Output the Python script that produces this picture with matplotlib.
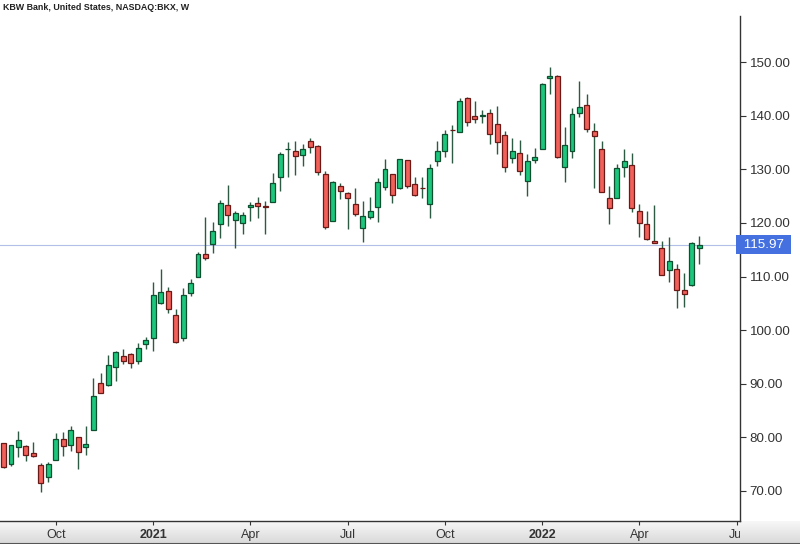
import matplotlib
matplotlib.use("Agg")
import matplotlib.pyplot as plt
import matplotlib.transforms as mtransforms
from matplotlib.patches import Rectangle
import numpy as np
import pandas as pd

plt.rcParams['font.family'] = ['Liberation Sans', 'DejaVu Sans']

title = "KBW Bank, United States, NASDAQ:BKX, W"
start_date = "2020-08-17"
last_price = 115.97

opens = [78.91, 74.99, 78.16, 78.35, 77.04, 74.80, 72.56, 75.73, 79.66, 78.54,
         80.03, 78.16, 81.34, 90.11, 89.74, 93.10, 95.15, 95.53, 94.22, 97.40,
         98.52, 105.05, 107.29, 102.81, 98.52, 106.92, 109.91, 114.20, 116.07, 119.81,
         123.35, 120.55, 119.99, 122.98, 123.73, 123.26, 123.91, 128.58, 133.72, 133.44,
         132.69, 135.30, 134.37, 129.14, 120.37, 126.90, 125.59, 123.54, 119.06, 121.11,
         122.98, 126.71, 129.14, 126.53, 131.76, 127.27, 126.56, 123.54, 131.57, 133.44,
         137.40, 136.98, 143.33, 139.97, 140.06, 140.53, 138.48, 136.42, 132.13, 133.06,
         127.83, 131.76, 133.81, 147.07, 147.44, 130.45, 133.44, 140.53, 142.03, 137.17,
         133.81, 124.66, 124.66, 130.45, 130.82, 122.23, 119.81, 116.54, 115.32, 111.22,
         111.40, 107.48, 108.41, 115.32]
closes = [74.43, 78.54, 79.47, 76.67, 76.48, 71.44, 74.99, 79.66, 78.35, 81.34,
          77.23, 78.72, 87.69, 88.25, 93.47, 95.90, 94.22, 93.85, 96.65, 98.14,
          106.55, 107.11, 103.93, 97.77, 106.55, 108.79, 114.20, 113.46, 118.50, 123.73,
          121.48, 121.86, 121.48, 123.35, 123.17, 123.07, 127.46, 132.88, 133.87, 132.50,
          133.81, 134.18, 129.51, 119.24, 127.65, 125.97, 124.66, 121.67, 121.30, 122.23,
          127.65, 130.08, 125.22, 131.94, 126.90, 125.22, 126.47, 130.26, 133.44, 136.61,
          137.30, 142.77, 138.85, 139.41, 140.20, 136.61, 135.12, 130.45, 133.44, 129.70,
          131.57, 132.32, 145.95, 147.44, 132.32, 134.56, 140.35, 141.65, 137.54, 136.23,
          125.78, 122.79, 130.26, 131.57, 122.79, 119.99, 117.00, 116.35, 110.28, 112.90,
          107.48, 106.73, 116.30, 115.97]
highs = [79.00, 78.60, 81.15, 78.50, 79.10, 75.17, 75.36, 80.78, 80.96, 82.08,
         80.10, 82.08, 91.05, 91.98, 95.34, 96.09, 96.46, 95.70, 97.58, 98.70,
         108.97, 111.40, 108.04, 103.93, 107.85, 109.53, 114.58, 121.11, 120.18, 124.29,
         127.09, 122.23, 122.04, 123.91, 124.85, 124.10, 129.33, 133.25, 135.12, 135.30,
         134.74, 135.86, 134.50, 129.70, 127.83, 127.46, 125.78, 126.53, 124.10, 124.85,
         128.39, 131.94, 129.20, 132.00, 131.80, 128.58, 128.58, 131.01, 135.30, 137.36,
         138.29, 143.33, 143.52, 142.77, 141.09, 141.28, 141.84, 137.17, 135.86, 135.49,
         132.88, 133.99, 146.13, 149.12, 147.60, 137.92, 141.46, 146.51, 144.08, 138.67,
         135.30, 126.90, 131.01, 133.81, 133.06, 123.54, 122.23, 123.35, 116.63, 117.38,
         112.33, 110.65, 116.50, 117.56]
lows = [74.30, 74.61, 76.29, 75.55, 76.29, 69.76, 71.63, 75.70, 76.48, 77.42,
        74.05, 76.67, 81.30, 88.20, 89.55, 90.49, 93.66, 92.91, 93.66, 96.46,
        96.09, 104.87, 103.18, 97.58, 97.96, 106.36, 109.85, 113.08, 114.39, 117.19,
        119.43, 115.32, 117.94, 120.37, 120.93, 117.94, 123.85, 125.97, 128.58, 128.95,
        130.63, 133.06, 128.95, 118.87, 120.30, 124.47, 118.87, 121.30, 116.44, 120.74,
        120.18, 126.15, 123.73, 126.40, 126.53, 125.03, 124.66, 120.93, 130.63, 132.32,
        131.20, 136.90, 138.11, 138.67, 138.67, 134.74, 132.88, 129.51, 131.20, 128.95,
        125.03, 131.20, 133.75, 144.08, 132.13, 127.65, 132.13, 139.78, 136.98, 126.53,
        125.70, 119.81, 124.60, 128.58, 122.05, 117.38, 116.82, 116.26, 110.20, 108.97,
        104.12, 104.31, 108.22, 112.27]
y_ticks = [70, 80, 90, 100, 110, 120, 130, 140, 150]

n = len(opens)
dates = pd.date_range(start_date, periods=n + 5, freq="W-MON")
x = np.arange(n)

fig = plt.figure(figsize=(8, 5.44), dpi=100)
W, H = 800, 544

# bottom gradient strip
sax = fig.add_axes([0, 0, 1, 23 / H])
grad = np.linspace(0.97, 0.85, 50).reshape(-1, 1)
sax.imshow(np.dstack([grad, grad, grad]), aspect='auto', extent=[0, 1, 0, 1])
sax.axhline(0.02, color='#555555', lw=1.5)
sax.set_axis_off()

ax = fig.add_axes([0, 23 / H, 740 / W, (521 - 16) / H])
ax.set_facecolor('white')

green, green_edge = '#1cc67c', '#0d4f2f'
red, red_edge = '#f2605a', '#6a1a16'
wick = '#2d5a42'

up = [c >= o for o, c in zip(opens, closes)]
ax.vlines(x, lows, highs, color=wick, lw=1.0, zorder=2)
body_bottom = [min(o, c) for o, c in zip(opens, closes)]
body_h = [max(abs(c - o), 0.12) for o, c in zip(opens, closes)]
ax.bar(x, body_h, bottom=body_bottom, width=0.66,
       color=[green if u else red for u in up],
       edgecolor=[green_edge if u else red_edge for u in up],
       linewidth=0.9, zorder=3)

ax.axhline(last_price, color='#b3bfe6', lw=0.8, zorder=1)

ax.set_xlim(-0.47, 98.46)
ax.set_ylim(64.34, 158.65)

for s in ['top', 'left']:
    ax.spines[s].set_visible(False)
for s in ['right', 'bottom']:
    ax.spines[s].set_color('#333333')
    ax.spines[s].set_linewidth(1.0)

ax.yaxis.tick_right()
ax.set_yticks(y_ticks)
ax.set_yticklabels([f"{v:.2f}" for v in y_ticks])
ax.tick_params(axis='y', direction='out', length=4, width=0.8, color='#333333',
               labelsize=9.6, labelcolor='#333333', pad=3)

# x ticks: first weekly bar of Jan/Apr/Jul/Oct
tick_pos, tick_lab, tick_bold = [], [], []
prev_month = None
for i, d in enumerate(dates):
    if d.month != prev_month and d.month in (1, 4, 7, 10) and i > 0:
        tick_pos.append(i)
        tick_lab.append(str(d.year) if d.month == 1 else d.strftime('%b'))
        tick_bold.append(d.month == 1)
    prev_month = d.month
ax.set_xticks(tick_pos)
ax.set_xticklabels(tick_lab)
ax.tick_params(axis='x', direction='out', length=3, width=0.8, color='#333333',
               labelsize=9, labelcolor='#333333', pad=3)
clip = Rectangle((0, 0), 740 / W, 1, transform=fig.transFigure)
for lab, b in zip(ax.get_xticklabels(), tick_bold):
    if b:
        lab.set_fontweight('bold')
    lab.set_clip_path(clip)
    lab.set_clip_on(True)

# price label
trans = mtransforms.blended_transform_factory(ax.transAxes, ax.transData)
ax.text(1.0, last_price, f" {last_price:.2f} ", transform=trans, ha='left', va='center',
        color='white', fontsize=9.6, clip_on=False, zorder=10,
        bbox=dict(boxstyle='square,pad=0.28', fc='#4470e0', ec='none'))

fig.text(3 / W, 1 - 7 / H, title, fontsize=6.4, fontweight='bold', color='#222222',
         ha='left', va='center')

fig.savefig('out.png', dpi=100)
